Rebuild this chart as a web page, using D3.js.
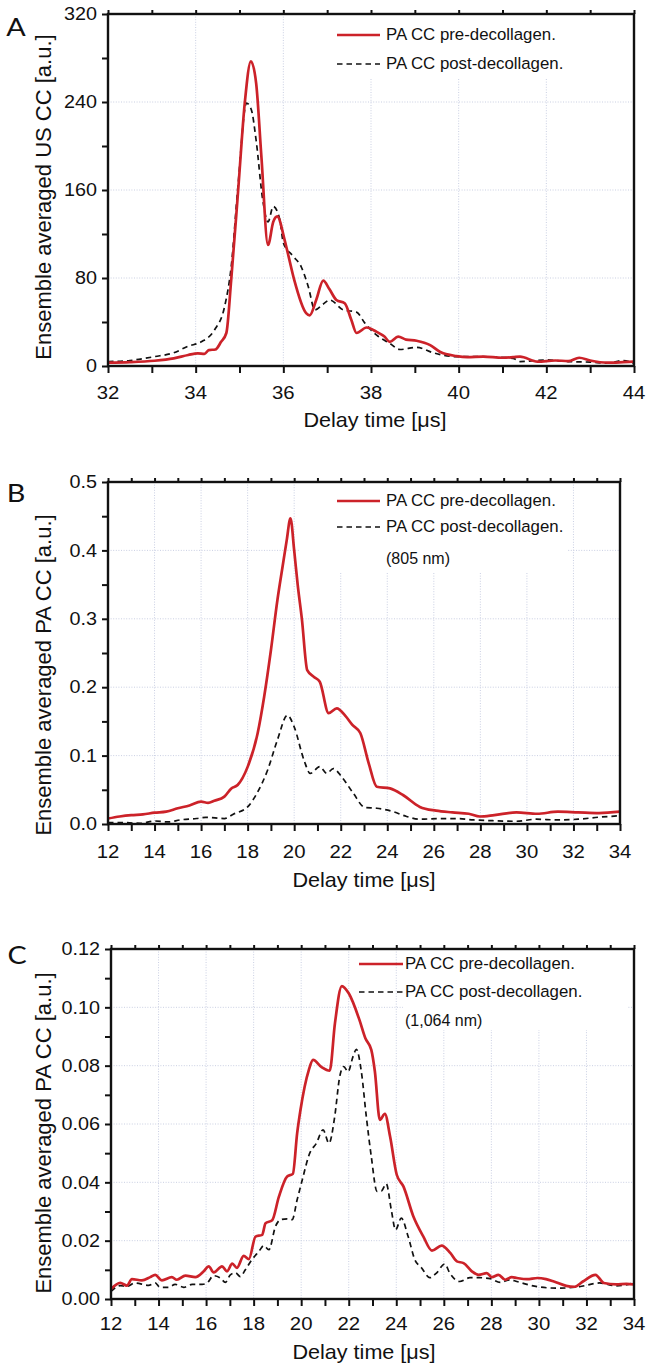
<!DOCTYPE html>
<html><head><meta charset="utf-8">
<script src="https://cdn.jsdelivr.net/npm/d3@7"></script>
<style>body{margin:0;background:#fff}svg{display:block}</style>
</head><body>
<svg id="c" width="646" height="1366"></svg>
<script>
// ---------- DATA ----------
const legendLabels = ["PA CC pre-decollagen.", "PA CC post-decollagen."];
const xTitle = "Delay time [\u03bcs]";

// Panel A
const aXTicks = [32, 34, 36, 38, 40, 42, 44];
const aYTicks = [0, 80, 160, 240, 320];
const aPre = [[32,3],[32.5,3.5],[33.06,4.8],[33.5,7],[33.83,10],[34.05,11.5],[34.2,11],[34.3,14.5],[34.45,15],[34.58,22],[34.7,30],[34.81,78],[34.97,160],[35.12,239],[35.26,277],[35.38,257],[35.5,190],[35.65,110],[35.77,131],[35.86,136],[36.03,114.5],[36.1,103],[36.25,78],[36.52,48],[36.6,46],[36.75,60],[36.91,77.6],[37.05,70],[37.21,60],[37.4,57],[37.55,42],[37.67,30],[37.9,35],[38.13,31],[38.3,27],[38.43,22],[38.62,26.7],[38.8,24],[39.04,23],[39.35,19],[39.57,13],[39.95,9],[40.2,8],[40.56,8.5],[41.0,7.5],[41.24,8],[41.4,8.5],[41.8,4],[42.2,5],[42.5,4.5],[42.75,7.5],[43.0,5],[43.4,3],[43.75,3.5],[44,4]];
const aPost = [[32,4],[32.5,5],[33.06,8.5],[33.5,12],[33.83,18],[34.13,22],[34.43,32.7],[34.66,54],[34.81,90],[34.97,166],[35.16,239],[35.27,233],[35.38,205],[35.53,151],[35.65,131],[35.77,145],[35.92,133],[36.0,112],[36.22,100],[36.41,90],[36.57,72],[36.72,51],[36.9,56],[37.06,60],[37.37,51],[37.67,49],[37.86,39],[38.13,28],[38.43,20.6],[38.66,15],[39.04,17],[39.42,12],[39.95,8.5],[40.5,8.5],[41.24,7],[41.4,4],[42.0,5.5],[42.5,4],[43.0,3.5],[43.4,2.5],[43.75,5],[44,2]];

// Panel B
const bXTicks = [12, 14, 16, 18, 20, 22, 24, 26, 28, 30, 32, 34];
const bYTicks = [0, 0.1, 0.2, 0.3, 0.4, 0.5];
const bPre = [[12,0.008],[12.5,0.011],[13,0.013],[13.5,0.014],[14,0.0165],[14.5,0.018],[15,0.023],[15.5,0.027],[16,0.0326],[16.3,0.031],[16.57,0.034],[17,0.04],[17.3,0.052],[17.57,0.057],[18,0.0835],[18.43,0.1326],[18.71,0.186],[19,0.254],[19.28,0.3275],[19.5,0.376],[19.68,0.415],[19.84,0.447],[20.0,0.40],[20.15,0.35],[20.33,0.30],[20.56,0.225],[20.85,0.215],[21.1,0.208],[21.48,0.162],[21.83,0.169],[22.2,0.158],[22.5,0.145],[22.84,0.133],[23.2,0.089],[23.55,0.0545],[24.12,0.052],[24.69,0.042],[25.4,0.025],[26.1,0.0195],[26.8,0.017],[27.5,0.015],[27.98,0.011],[28.6,0.013],[29.55,0.017],[30.44,0.015],[31.33,0.018],[32.2,0.017],[33.1,0.016],[34,0.018]];
const bPost = [[12,0.002],[12.7,0.002],[13.4,0.001],[14,0.0044],[14.6,0.003],[15.1,0.006],[15.8,0.008],[16.2,0.0098],[17,0.008],[17.4,0.0146],[18,0.025],[18.4,0.045],[18.86,0.079],[19.28,0.123],[19.71,0.159],[20.0,0.142],[20.42,0.0936],[20.69,0.074],[21.1,0.0838],[21.4,0.074],[21.68,0.081],[22.04,0.069],[22.54,0.045],[23.04,0.024],[23.55,0.023],[24.26,0.018],[24.83,0.011],[25.4,0.007],[26.26,0.008],[26.98,0.008],[27.7,0.006],[28.4,0.005],[29.55,0.004],[30.4,0.007],[31.3,0.006],[32.2,0.007],[33.1,0.01],[34,0.012]];

// Panel C
const cXTicks = [12, 14, 16, 18, 20, 22, 24, 26, 28, 30, 32, 34];
const cYTicks = [0, 0.02, 0.04, 0.06, 0.08, 0.10, 0.12];
const cPre = [[12,0.0034],[12.39,0.0055],[12.67,0.0046],[12.88,0.0068],[13.3,0.0064],[13.65,0.0075],[13.86,0.0083],[14.14,0.0064],[14.56,0.0075],[14.77,0.0066],[15.13,0.008],[15.55,0.0075],[15.9,0.0095],[16.11,0.0112],[16.32,0.0091],[16.67,0.0112],[16.88,0.0095],[17.1,0.0121],[17.3,0.0107],[17.58,0.0148],[17.8,0.0137],[18.08,0.0214],[18.36,0.022],[18.5,0.026],[18.78,0.027],[19.06,0.035],[19.41,0.042],[19.65,0.0429],[19.83,0.0568],[19.97,0.0648],[20.32,0.0785],[20.5,0.082],[20.86,0.0795],[21.2,0.0783],[21.42,0.0945],[21.71,0.1073],[22.0,0.1048],[22.45,0.0957],[22.7,0.0894],[22.95,0.0854],[23.1,0.078],[23.31,0.0614],[23.52,0.0635],[23.74,0.0557],[24.02,0.0426],[24.3,0.0386],[24.72,0.0283],[25.14,0.0214],[25.5,0.0166],[25.91,0.0183],[26.27,0.0158],[26.55,0.0129],[26.83,0.0123],[27.18,0.0095],[27.46,0.0083],[27.81,0.0089],[28.02,0.0075],[28.3,0.0083],[28.58,0.0066],[28.86,0.0075],[29.07,0.0072],[29.5,0.0068],[29.94,0.0072],[30.3,0.0068],[30.63,0.006],[31.15,0.0045],[31.5,0.0042],[31.85,0.006],[32.38,0.0083],[32.73,0.0055],[33.25,0.005],[33.68,0.0052],[34,0.005]];
const cPost = [[12,0.0026],[12.39,0.0046],[12.67,0.0043],[13.0,0.0055],[13.58,0.0047],[13.86,0.0055],[14.07,0.004],[14.42,0.004],[14.7,0.005],[15.06,0.004],[15.41,0.005],[15.83,0.005],[16.04,0.0055],[16.32,0.008],[16.6,0.0072],[16.81,0.0057],[17.02,0.0083],[17.23,0.009],[17.44,0.0077],[17.65,0.01],[17.93,0.0135],[18.22,0.0163],[18.43,0.0183],[18.64,0.0169],[18.92,0.0249],[19.13,0.0272],[19.41,0.0275],[19.62,0.0272],[19.83,0.034],[20.05,0.041],[20.36,0.05],[20.64,0.0534],[20.92,0.058],[21.17,0.0534],[21.41,0.0625],[21.62,0.0762],[21.79,0.0797],[21.97,0.0779],[22.18,0.0831],[22.32,0.0856],[22.53,0.078],[22.74,0.0625],[22.95,0.0488],[23.19,0.0369],[23.37,0.037],[23.58,0.0395],[23.79,0.0306],[23.97,0.0237],[24.21,0.0277],[24.5,0.0214],[24.78,0.0135],[25.06,0.0107],[25.41,0.0073],[25.69,0.0089],[26.04,0.012],[26.25,0.0089],[26.67,0.006],[27.1,0.0073],[27.5,0.0073],[27.95,0.007],[28.37,0.0057],[28.79,0.0066],[29.07,0.006],[29.94,0.0042],[30.8,0.0037],[31.7,0.0042],[32.55,0.0055],[33.25,0.0045],[34,0.0055]];

// ---------- DRAWING ----------
const svg = d3.select("#c");
const RED = "#cc2229";
const FONT = "'Liberation Sans', Arial, sans-serif";

function txt(g, x, y, s, size, anchor, sx, rot) {
  return g.append("text")
    .attr("transform", `translate(${x},${y}) rotate(${rot||0}) scale(${sx||1},1)`)
    .attr("text-anchor", anchor || "start")
    .attr("dominant-baseline", "central")
    .attr("font-family", FONT)
    .attr("font-size", size)
    .attr("fill", "#111")
    .text(s);
}

function panel(cfg) {
  const g = svg.append("g");
  const x = d3.scaleLinear().domain(cfg.xDomain).range([cfg.left, cfg.right]);
  const y = d3.scaleLinear().domain(cfg.yDomain).range([cfg.bottom, cfg.top]);

  // grid
  const grid = g.append("g").attr("stroke", "#b9c0da").attr("stroke-width", 1).attr("stroke-dasharray", "1,1.6").attr("opacity", 0.75);
  cfg.xTicks.slice(1, -1).forEach(t => grid.append("line").attr("x1", x(t)).attr("x2", x(t)).attr("y1", cfg.top).attr("y2", cfg.bottom));
  cfg.yTicks.slice(1, -1).forEach(t => grid.append("line").attr("x1", cfg.left).attr("x2", cfg.right).attr("y1", y(t)).attr("y2", y(t)));

  // legend background
  const lb = cfg.legendBox;
  g.append("rect").attr("x", lb[0]).attr("y", lb[1]).attr("width", lb[2]).attr("height", lb[3]).attr("fill", "#fff");

  // curves
  const line = d3.line().x(d => x(d[0])).y(d => y(d[1])).curve(d3.curveMonotoneX);
  g.append("path").datum(cfg.post).attr("d", line).attr("fill", "none").attr("stroke", "#111").attr("stroke-width", 1.7).attr("stroke-dasharray", "5.5,4");
  g.append("path").datum(cfg.pre).attr("d", line).attr("fill", "none").attr("stroke", RED).attr("stroke-width", 2.7).attr("stroke-linejoin", "round");

  // axes with d3
  const minorX = d3.range(cfg.xDomain[0], cfg.xDomain[1] + 1e-9, cfg.xMinor);
  const minorY = d3.range(cfg.yDomain[0], cfg.yDomain[1] + 1e-9, cfg.yMinor);
  const bx = g.append("g").attr("transform", `translate(0,${cfg.bottom})`)
    .call(d3.axisBottom(x).tickValues(minorX).tickSize(7).tickFormat(""));
  const tx = g.append("g").attr("transform", `translate(0,${cfg.top})`)
    .call(d3.axisTop(x).tickValues(minorX).tickSize(4).tickFormat(""));
  const ly = g.append("g").attr("transform", `translate(${cfg.left},0)`)
    .call(d3.axisLeft(y).tickValues(minorY).tickSize(6).tickFormat(""));
  [bx, tx, ly].forEach(a => {
    a.select(".domain").remove();
    a.selectAll(".tick line").attr("stroke", "#111").attr("stroke-width", 2);
  });

  // frame
  g.append("rect").attr("x", cfg.left).attr("y", cfg.top).attr("width", cfg.right - cfg.left).attr("height", cfg.bottom - cfg.top)
    .attr("fill", "none").attr("stroke", "#111").attr("stroke-width", 2.4);

  // tick labels
  cfg.xTicks.forEach(t => txt(g, x(t), cfg.xLabelY, String(t), 18.5, "middle", 1.1));
  cfg.yTicks.forEach(t => txt(g, cfg.left - 11, y(t), cfg.yFmt(t), 18.5, "end", 1.07));

  // titles
  txt(g, cfg.xTitleX, cfg.xTitleY, xTitle, 20, "middle", 1.08);
  txt(g, 43, cfg.yTitleY, cfg.yTitle, 22, "middle", 1, -90);

  // panel letter
  g.append("text").attr("transform", `translate(${cfg.letter[1]},${cfg.letter[2]}) scale(1.15,1)`)
    .attr("text-anchor", "middle").attr("dominant-baseline", "central")
    .attr("font-family", "Lato, 'Open Sans', sans-serif").attr("font-size", 25).attr("fill", "#111").text(cfg.letter[0]);

  // legend
  const L = cfg.legend;
  g.append("line").attr("x1", L.x0).attr("x2", L.x1).attr("y1", L.ys[0]).attr("y2", L.ys[0]).attr("stroke", RED).attr("stroke-width", 2.7);
  g.append("line").attr("x1", L.x0).attr("x2", L.x1).attr("y1", L.ys[1]).attr("y2", L.ys[1]).attr("stroke", "#111").attr("stroke-width", 1.7).attr("stroke-dasharray", "5.5,4");
  txt(g, L.tx, L.ys[0], legendLabels[0], 16.5, "start", 1.02);
  txt(g, L.tx, L.ys[1], legendLabels[1], 16.5, "start", 1.02);
  if (L.note) txt(g, L.tx, L.ys[2], L.note, 16, "start", 1.0);
}

panel({
  xDomain: [32, 44], yDomain: [0, 320], left: 108, right: 634, top: 14, bottom: 366,
  xTicks: aXTicks, yTicks: aYTicks, xMinor: 1, yMinor: 40, yFmt: d3.format("d"),
  pre: aPre, post: aPost, xLabelY: 392, xTitleX: 375, xTitleY: 420, yTitleY: 197,
  yTitle: "Ensemble averaged US CC [a.u.]", letter: ["A", 16, 26],
  legend: { x0: 337, x1: 380, tx: 386, ys: [35, 64] }, legendBox: [332, 16, 234, 62]
});
panel({
  xDomain: [12, 34], yDomain: [0, 0.5], left: 108, right: 620, top: 482, bottom: 824,
  xTicks: bXTicks, yTicks: bYTicks, xMinor: 1, yMinor: 0.05, yFmt: d3.format(".1f"),
  pre: bPre, post: bPost, xLabelY: 851, xTitleX: 364, xTitleY: 880, yTitleY: 675,
  yTitle: "Ensemble averaged PA CC [a.u.]", letter: ["B", 16, 492],
  legend: { x0: 337, x1: 380, tx: 386, ys: [501, 527, 558], note: "(805 nm)" }, legendBox: [300, 484, 268, 88]
});
panel({
  xDomain: [12, 34], yDomain: [0, 0.12], left: 111, right: 634, top: 949, bottom: 1299,
  xTicks: cXTicks, yTicks: cYTicks, xMinor: 1, yMinor: 0.01, yFmt: d3.format(".2f"),
  pre: cPre, post: cPost, xLabelY: 1323, xTitleX: 364, xTitleY: 1352, yTitleY: 1133,
  yTitle: "Ensemble averaged PA CC [a.u.]", letter: ["C", 17, 954],
  legend: { x0: 359, x1: 403, tx: 405, ys: [964, 992, 1020], note: "(1,064 nm)" }, legendBox: [403, 951, 225, 79]
});
</script>
</body></html>
